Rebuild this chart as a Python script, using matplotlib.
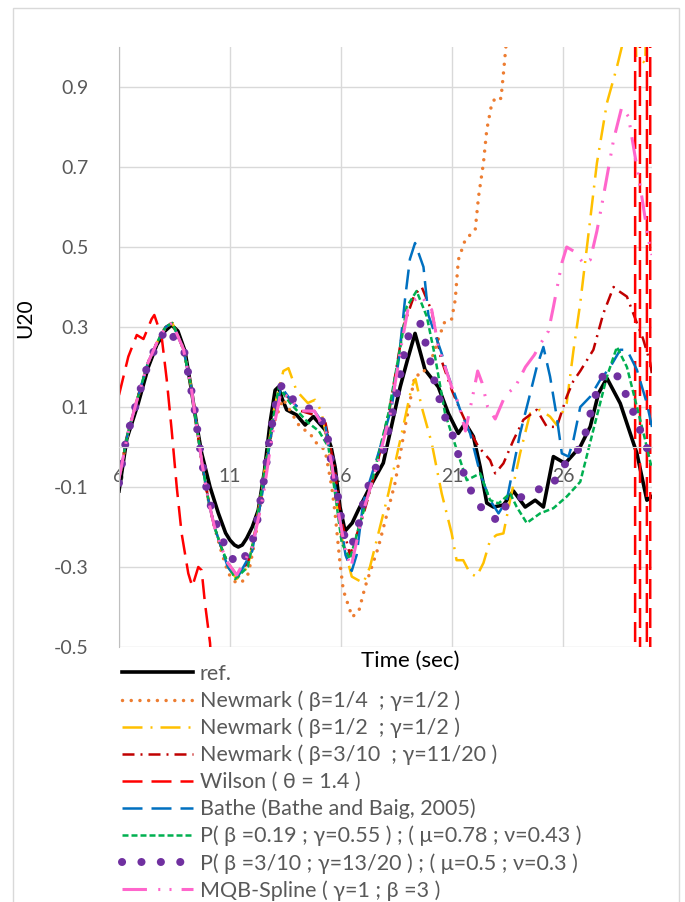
import numpy as np
import matplotlib
matplotlib.use('Agg')
import matplotlib.pyplot as plt
from matplotlib.patches import Rectangle

plt.rcParams['font.family'] = ['Lato', 'DejaVu Sans']

# ---- data ----
ref_x = [6.0, 6.35, 6.87, 7.32, 7.7, 8.07, 8.37, 8.65, 8.97, 9.24, 9.5, 9.72, 10.1, 10.47, 10.8,
         11.0, 11.2, 11.37, 11.55, 11.75, 12.0, 12.27, 12.55, 12.8, 13.03, 13.18, 13.35, 13.55,
         14.0, 14.38, 14.75, 15.28, 15.55, 15.73, 15.95, 16.18, 16.5, 16.78, 17.3, 17.9, 18.13,
         18.66, 19.0, 19.33, 19.55, 19.78, 20.38, 20.83, 21.28, 21.59, 21.96, 22.26, 22.56,
         22.86, 23.31, 23.76, 24.29, 24.74, 25.11, 25.56, 26.09, 26.77, 27.22, 27.59, 27.97,
         28.57, 29.32, 29.77, 29.99]
ref_y = [-0.11, 0.02, 0.11, 0.2, 0.255, 0.29, 0.305, 0.29, 0.24, 0.15, 0.055, -0.015, -0.1,
         -0.165, -0.215, -0.233, -0.245, -0.25, -0.245, -0.228, -0.2, -0.158, -0.06, 0.06,
         0.142, 0.15, 0.12, 0.093, 0.08, 0.055, 0.076, 0.043, 0.0, -0.05, -0.15, -0.21, -0.19,
         -0.157, -0.1, -0.04, 0.017, 0.15, 0.22, 0.284, 0.24, 0.193, 0.15, 0.084, 0.034, 0.06,
         0.026, -0.049, -0.14, -0.15, -0.145, -0.11, -0.15, -0.133, -0.15, -0.024, -0.041,
         0.001, 0.051, 0.134, 0.172, 0.109, -0.016, -0.133, -0.124]

nm14_x = [6.0, 6.4, 6.85, 7.3, 7.7, 8.1, 8.4, 8.9, 9.25, 9.5, 9.75, 10.05, 10.3, 10.6, 10.92,
          11.23, 11.5, 11.83, 12.1, 12.5, 12.9, 13.39, 13.78, 14.15, 14.6, 14.83, 15.28, 15.58,
          15.73, 15.95, 16.1, 16.5, 16.8, 17.08, 17.68, 18.43, 18.88, 19.33, 19.63, 20.08,
          20.38, 20.68, 20.98, 21.14, 21.28, 21.59, 22.04, 22.19, 22.41, 22.56, 22.79, 23.01,
          23.2, 23.31, 23.42, 23.8, 25.0, 30.0]
nm14_y = [-0.08, 0.035, 0.125, 0.21, 0.26, 0.3, 0.31, 0.245, 0.15, 0.05, -0.045, -0.14, -0.2,
          -0.26, -0.316, -0.337, -0.34, -0.316, -0.24, -0.09, 0.05, 0.12, 0.084, 0.05, 0.034,
          0.013, -0.008, -0.1, -0.166, -0.29, -0.358, -0.425, -0.41, -0.35, -0.25, -0.09, 0.05,
          0.18, 0.18, 0.22, 0.27, 0.315, 0.32, 0.368, 0.468, 0.518, 0.543, 0.626, 0.71, 0.793,
          0.86, 0.876, 0.871, 0.934, 1.0, 1.3, 3.0, 10.0]

nm12_x = [6.0, 6.4, 6.85, 7.3, 7.7, 8.1, 8.4, 8.9, 9.25, 9.5, 9.75, 10.05, 10.3, 10.6, 10.9,
          11.3, 11.8, 12.1, 12.5, 13.0, 13.4, 13.63, 14.0, 14.5, 14.83, 15.1, 15.35, 15.7, 16.0,
          16.48, 17.0, 17.3, 17.68, 18.13, 18.73, 19.18, 19.35, 19.63, 20.08, 20.53, 20.98, 21.2,
          21.5, 21.81, 22.1, 22.41, 22.71, 23.0, 23.31, 23.61, 24.06, 24.51, 24.96, 25.41, 25.71,
          26.16, 26.46, 26.77, 27.07, 27.52, 27.97, 28.42, 28.64, 28.9, 29.15, 29.29, 29.7,
          29.85, 30.0]
nm12_y = [-0.08, 0.035, 0.125, 0.21, 0.26, 0.3, 0.31, 0.245, 0.15, 0.05, -0.045, -0.14, -0.2,
          -0.25, -0.3, -0.33, -0.3, -0.22, -0.08, 0.1, 0.19, 0.197, 0.14, 0.11, 0.118, 0.09,
          0.026, -0.1, -0.22, -0.324, -0.34, -0.3, -0.216, -0.116, 0.034, 0.15, 0.17, 0.1, 0.01,
          -0.116, -0.216, -0.283, -0.283, -0.316, -0.324, -0.29, -0.233, -0.22, -0.216, -0.133,
          -0.016, 0.084, 0.093, 0.076, 0.055, 0.11, 0.24, 0.36, 0.5, 0.71, 0.86, 0.95, 1.0,
          1.2, 1.3, 0.975, 0.96, 1.5, 2.0]

nm310_x = [6.0, 6.4, 6.85, 7.3, 7.7, 8.1, 8.4, 8.9, 9.25, 9.5, 9.75, 10.05, 10.3, 10.6, 10.9,
           11.3, 11.8, 12.1, 12.5, 12.9, 13.3, 13.7, 14.2, 14.8, 15.3, 15.7, 16.0, 16.4, 17.0,
           17.6, 18.2, 18.8, 19.3, 19.63, 20.08, 20.5, 21.0, 21.36, 21.8, 22.19, 22.71, 22.94,
           23.31, 23.76, 24.21, 24.81, 25.26, 25.71, 26.16, 26.46, 26.77, 27.36, 27.81, 28.27,
           28.5, 28.87, 29.32, 29.6, 29.92, 30.0]
nm310_y = [-0.08, 0.035, 0.125, 0.21, 0.26, 0.3, 0.31, 0.245, 0.15, 0.05, -0.045, -0.14, -0.2,
           -0.25, -0.29, -0.32, -0.29, -0.22, -0.1, 0.05, 0.14, 0.12, 0.09, 0.08, 0.06, -0.05,
           -0.18, -0.27, -0.17, -0.05, 0.1, 0.3, 0.38, 0.4, 0.34, 0.22, 0.14, 0.093, 0.04, 0.0,
           -0.033, -0.066, -0.041, 0.017, 0.068, 0.093, 0.051, 0.05, 0.126, 0.165, 0.19, 0.243,
           0.334, 0.4, 0.39, 0.376, 0.31, 0.27, 0.21, 0.18]

wil_x = [6.0, 6.42, 6.8, 7.1, 7.47, 7.59, 7.92, 8.15, 8.37, 8.6, 8.82, 9.12, 9.3, 9.57, 9.72,
         9.87, 10.1, 10.35, 11.0, 20.0, 29.2, 29.28, 29.64, 29.9, 29.94, 30.0]
wil_y = [0.13, 0.226, 0.28, 0.27, 0.32, 0.33, 0.276, 0.168, 0.043, -0.1, -0.216, -0.316, -0.349,
         -0.3, -0.308, -0.39, -0.49, -0.75, -5.0, -20.0, -50.0, 50.0, -50.0, 50.0, -50.0, -50.0]

bathe_x = [6.0, 6.4, 6.85, 7.3, 7.7, 8.1, 8.4, 8.9, 9.25, 9.5, 9.75, 10.05, 10.3, 10.6, 10.9,
           11.3, 12.0, 12.5, 12.9, 13.3, 13.7, 14.2, 14.8, 15.3, 15.6, 15.9, 16.2, 16.48, 16.7,
           17.0, 17.68, 18.28, 18.6, 18.88, 19.1, 19.33, 19.71, 19.93, 20.53, 20.75, 21.36,
           21.81, 22.26, 22.71, 23.09, 23.46, 23.76, 24.06, 24.44, 24.81, 25.11, 25.41, 25.71,
           25.94, 26.24, 26.46, 26.77, 27.22, 27.67, 28.12, 28.57, 28.87, 29.32, 29.77, 30.0]
bathe_y = [-0.08, 0.035, 0.125, 0.21, 0.26, 0.3, 0.31, 0.245, 0.15, 0.05, -0.045, -0.14, -0.2,
           -0.25, -0.3, -0.33, -0.26, -0.1, 0.05, 0.15, 0.12, 0.09, 0.09, 0.05, -0.05, -0.16,
           -0.27, -0.31, -0.27, -0.137, -0.016, 0.1, 0.22, 0.37, 0.47, 0.51, 0.45, 0.33, 0.234,
           0.19, 0.093, 0.034, -0.066, -0.133, -0.166, -0.133, -0.049, 0.034, 0.117, 0.2, 0.25,
           0.176, 0.076, -0.016, -0.024, 0.017, 0.1, 0.126, 0.168, 0.2, 0.243, 0.243, 0.193,
           0.109, 0.05]

p1_x = [6.0, 6.4, 6.85, 7.3, 7.7, 8.1, 8.4, 8.9, 9.25, 9.5, 9.75, 10.05, 10.3, 10.6, 10.9,
        11.23, 11.8, 12.1, 12.5, 12.9, 13.2, 13.7, 14.53, 15.0, 15.43, 15.73, 16.03, 16.4,
        16.8, 17.3, 18.13, 18.73, 18.95, 19.4, 19.86, 20.23, 20.68, 21.36, 21.66, 22.26, 22.71,
        23.09, 23.61, 23.91, 24.36, 24.96, 25.56, 26.16, 26.77, 27.36, 27.97, 28.42, 28.87,
        29.62, 29.99]
p1_y = [-0.08, 0.035, 0.125, 0.21, 0.26, 0.3, 0.31, 0.245, 0.15, 0.05, -0.045, -0.14, -0.2,
        -0.25, -0.29, -0.33, -0.3, -0.22, -0.08, 0.06, 0.15, 0.11, 0.06, 0.04, 0.0, -0.116,
        -0.24, -0.28, -0.2, -0.107, 0.084, 0.27, 0.35, 0.39, 0.326, 0.226, 0.084, -0.033,
        -0.083, -0.066, -0.133, -0.141, -0.116, -0.15, -0.19, -0.166, -0.153, -0.124, -0.087,
        0.043, 0.176, 0.25, 0.2, 0.034, -0.053]

p2_x = [6.0, 6.09, 6.2, 6.39, 6.6, 6.84, 7.32, 7.7, 8.15, 8.94, 9.24, 9.39, 9.5, 9.62, 9.75,
        9.87, 10.05, 10.29, 10.59, 10.89, 11.37, 11.86, 12.13, 12.28, 12.4, 12.55, 12.67,
        12.77, 12.92, 13.07, 13.33, 13.7, 14.2, 14.8, 15.25, 15.46, 15.55, 15.88, 16.0, 16.15,
        16.45, 16.75, 16.9, 17.11, 17.41, 17.76, 18.06, 18.2, 18.43, 18.58, 18.73, 18.88,
        19.1, 19.56, 20.0, 20.15, 20.38, 20.6, 20.95, 21.2, 21.43, 21.69, 22.1, 22.59, 23.13,
        23.49, 24.18, 24.89, 25.53, 25.9, 26.43, 26.88, 27.09, 27.29, 27.54, 27.85, 28.39,
        28.75, 29.09, 29.39, 29.69, 29.99]
p2_y = [-0.09, -0.06, -0.014, 0.032, 0.076, 0.12, 0.21, 0.255, 0.298, 0.238, 0.147, 0.1,
        0.053, 0.007, -0.04, -0.085, -0.13, -0.178, -0.22, -0.266, -0.295, -0.26, -0.213,
        -0.168, -0.122, -0.076, -0.028, 0.018, 0.065, 0.11, 0.155, 0.126, 0.1, 0.094, 0.055,
        0.008, -0.037, -0.13, -0.176, -0.222, -0.25, -0.207, -0.162, -0.116, -0.07, -0.028,
        0.018, 0.063, 0.11, 0.155, 0.2, 0.247, 0.29, 0.31, 0.22, 0.176, 0.13, 0.084, 0.043,
        -0.003, -0.05, -0.093, -0.134, -0.174, -0.183, -0.138, -0.124, -0.106, -0.095, -0.053,
        -0.024, 0.008, 0.053, 0.097, 0.144, 0.186, 0.183, 0.141, 0.097, 0.053, 0.009, -0.035]

mqb_x = [6.0, 6.4, 6.85, 7.3, 7.7, 8.1, 8.4, 8.9, 9.25, 9.5, 9.75, 10.05, 10.3, 10.6, 10.9,
         11.3, 12.0, 12.5, 12.9, 13.3, 13.7, 14.2, 14.8, 15.3, 15.6, 15.9, 16.2, 16.45, 17.0,
         17.6, 18.2, 18.7, 19.03, 19.33, 19.63, 20.08, 20.38, 20.98, 21.28, 21.6, 21.9, 22.15,
         22.35, 22.6, 22.94, 23.4, 23.84, 24.3, 24.7, 25.0, 25.34, 25.56, 25.94, 26.16, 26.46,
         26.91, 27.22, 27.52, 27.81, 28.27, 28.64, 28.94, 29.24, 29.54, 29.84, 30.0]
mqb_y = [-0.08, 0.035, 0.125, 0.21, 0.26, 0.3, 0.31, 0.245, 0.15, 0.05, -0.045, -0.14, -0.2,
         -0.25, -0.29, -0.32, -0.25, -0.12, 0.03, 0.14, 0.12, 0.09, 0.09, 0.04, -0.05, -0.17,
         -0.26, -0.3, -0.16, -0.05, 0.08, 0.25, 0.35, 0.368, 0.376, 0.343, 0.25, 0.15, 0.11,
         0.04, 0.12, 0.19, 0.16, 0.1, 0.07, 0.13, 0.15, 0.2, 0.23, 0.26, 0.29, 0.35, 0.46, 0.5,
         0.49, 0.46, 0.468, 0.54, 0.626, 0.768, 0.85, 0.826, 0.726, 0.626, 0.518, 0.48]

labels = ['ref.',
          'Newmark ( β=1/4  ; γ=1/2 )',
          'Newmark ( β=1/2  ; γ=1/2 )',
          'Newmark ( β=3/10  ; γ=11/20 )',
          'Wilson ( θ = 1.4 )',
          'Bathe (Bathe and Baig, 2005)',
          'P( β =0.19 ; γ=0.55 ) ; ( μ=0.78 ; ν=0.43 )',
          'P( β =3/10 ; γ=13/20 ) ; ( μ=0.5 ; ν=0.3 )',
          'MQB-Spline ( γ=1 ; β =3 )']

x_ticks = [6, 11, 16, 21, 26]
y_ticks = [-0.5, -0.3, -0.1, 0.1, 0.3, 0.5, 0.7, 0.9]
y_ticklabels = ['-0.5', '-0.3', '-0.1', '0.1', '0.3', '0.5', '0.7', '0.9']

# ---- figure ----
fig = plt.figure(figsize=(6.85, 9.02), dpi=100)
ax = fig.add_axes([119/685, 1-647/902, (652-119)/685, 600/902])

grey = '#595959'
gridc = '#D9D9D9'

ax.plot(ref_x, ref_y, color='black', lw=2.6, label=labels[0])
ax.plot(nm14_x, nm14_y, color='#ED7D31', lw=2.5, linestyle=(0, (0.01, 2.5)),
        dash_capstyle='round', label=labels[1])
ax.plot(nm12_x, nm12_y, color='#FFC000', lw=1.8, linestyle=(0, (8, 3.2, 0.8, 3.2)),
        label=labels[2])
ax.plot(nm310_x, nm310_y, color='#C00000', lw=1.8, linestyle=(0, (4.8, 2.4, 0.8, 2.4)),
        label=labels[3])
ax.plot(wil_x, wil_y, color='#FF0000', lw=1.8, linestyle=(0, (8, 3.6)), label=labels[4])
ax.plot(bathe_x, bathe_y, color='#0070C0', lw=1.8, linestyle=(0, (8, 3.6)), label=labels[5])
ax.plot(p1_x, p1_y, color='#00B050', lw=1.8, linestyle=(0, (2.4, 1.2)), label=labels[6])
ax.plot(p2_x, p2_y, color='#7030A0', lw=5.8, linestyle=(0, (0.01, 2.4)),
        dash_capstyle='round', label=labels[7])
ax.plot(mqb_x, mqb_y, color='#FF66CC', lw=2.2,
        linestyle=(0, (8, 3.7, 0.67, 3, 0.67, 3.3)), label=labels[8])

ax.set_xlim(6, 30)
ax.set_ylim(-0.5, 1.0)
ax.set_xticks(x_ticks)
ax.set_xticklabels([str(t) for t in x_ticks])
ax.set_yticks(y_ticks)
ax.set_yticklabels(y_ticklabels)
ax.grid(True, color=gridc, lw=1.0)
ax.set_axisbelow(True)
for s in ['top', 'right']:
    ax.spines[s].set_visible(False)
ax.spines['bottom'].set_position(('data', 0))
ax.spines['bottom'].set_color(gridc)
ax.spines['left'].set_color('#BFBFBF')
ax.tick_params(axis='both', length=0, labelsize=14, labelcolor=grey)
ax.tick_params(axis='y', pad=22)
ax.tick_params(axis='x', pad=15)

fig.text(25/685, 1-318/902, 'U20', rotation=90, fontsize=15, ha='center', va='center')
fig.text(410/685, 1-661/902, 'Time (sec)', fontsize=16, ha='center', va='center')

fig.legend(loc='upper left', bbox_to_anchor=(122/685, 1-664/902), frameon=False,
           fontsize=15.5, labelcolor=grey, handlelength=3.3, handletextpad=0.3,
           labelspacing=0.305, borderpad=0, borderaxespad=0)

fig.patches.append(Rectangle((13/685, -0.05), (679-13)/685, 1.05-8/902,
                             transform=fig.transFigure, fill=False,
                             edgecolor=gridc, lw=1.0))

plt.savefig('out.png', dpi=100)
